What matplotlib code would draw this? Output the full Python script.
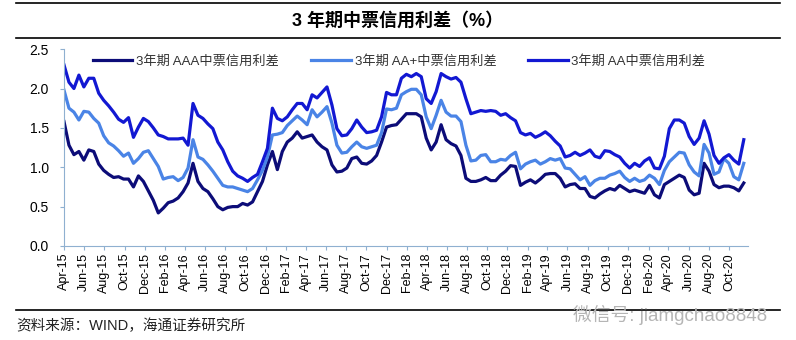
import matplotlib
matplotlib.use('Agg')
import matplotlib.pyplot as plt
import matplotlib.dates as mdates
from matplotlib.lines import Line2D
import pandas as pd

plt.rcParams['font.family'] = ['Liberation Sans', 'Noto Sans CJK SC', 'DejaVu Sans']

# 半月一个点, 2015-04 ~ 2020-11
dates = pd.date_range('2015-04-01', periods=138, freq='15D')

aaa = [1.58, 1.28, 1.16, 1.20, 1.09, 1.22, 1.20, 1.04, 0.96, 0.91, 0.87, 0.88, 0.85, 0.85, 0.75, 0.89, 0.82, 0.70,
       0.58, 0.42, 0.48, 0.55, 0.57, 0.61, 0.69, 0.80, 1.05, 0.82, 0.73, 0.69, 0.60, 0.50, 0.46, 0.49, 0.50, 0.50,
       0.54, 0.52, 0.56, 0.69, 0.82, 1.03, 1.20, 0.97, 1.20, 1.32, 1.37, 1.45, 1.37, 1.39, 1.41, 1.32, 1.26, 1.22,
       1.03, 0.94, 0.95, 0.99, 1.11, 1.13, 1.05, 1.04, 1.08, 1.15, 1.32, 1.51, 1.53, 1.54, 1.61, 1.68,
       1.68, 1.68, 1.64, 1.37, 1.22, 1.32, 1.54, 1.35, 1.30, 1.27, 1.15, 0.86, 0.82, 0.82, 0.84, 0.87, 0.83, 0.83,
       0.90, 0.95, 1.02, 1.01, 0.77, 0.81, 0.84, 0.80, 0.85, 0.91, 0.92, 0.92, 0.86, 0.75, 0.78, 0.79,
       0.73, 0.73, 0.63, 0.61, 0.66, 0.70, 0.73, 0.71, 0.77, 0.73, 0.69, 0.71, 0.69, 0.67, 0.77, 0.65, 0.61, 0.78,
       0.82, 0.86, 0.90, 0.87, 0.71, 0.65, 0.67, 1.05, 0.95, 0.78, 0.74, 0.76, 0.76, 0.74, 0.70, 0.80]

aa_plus = [1.98, 1.75, 1.70, 1.60, 1.71, 1.70, 1.62, 1.56, 1.40, 1.31, 1.27, 1.21, 1.14, 1.18, 1.05, 1.11, 1.19, 1.21,
           1.11, 1.01, 0.85, 0.87, 0.88, 0.83, 0.87, 0.99, 1.35, 1.13, 1.10, 1.03, 0.95, 0.86, 0.77, 0.75, 0.75, 0.73,
           0.71, 0.69, 0.73, 0.84, 0.96, 1.13, 1.41, 1.42, 1.44, 1.53, 1.59, 1.65, 1.60, 1.54, 1.73, 1.64, 1.70, 1.77,
           1.56, 1.28, 1.18, 1.19, 1.26, 1.32, 1.26, 1.24, 1.26, 1.28, 1.44, 1.74, 1.73, 1.75, 1.92, 1.96,
           1.99, 1.99, 1.92, 1.64, 1.49, 1.66, 1.85, 1.70, 1.65, 1.65, 1.58, 1.28, 1.08, 1.09, 1.15, 1.16, 1.07, 1.07,
           1.10, 1.09, 1.15, 1.19, 0.98, 1.04, 1.07, 1.09, 1.04, 1.07, 1.11, 1.09, 1.11, 0.99, 0.98, 0.91,
           0.84, 0.88, 0.77, 0.83, 0.86, 0.86, 0.90, 0.92, 0.95, 0.87, 0.82, 0.86, 0.82, 0.84, 0.90, 0.86, 0.78, 0.96,
           1.07, 1.13, 1.19, 1.18, 1.03, 0.94, 0.89, 1.29, 1.18, 0.91, 0.94, 1.11, 1.05, 0.88, 0.84, 1.05]

aa = [2.30, 2.08, 2.00, 2.17, 2.02, 2.13, 2.13, 1.94, 1.85, 1.78, 1.70, 1.61, 1.57, 1.63, 1.38, 1.51, 1.62, 1.58,
      1.50, 1.41, 1.39, 1.36, 1.36, 1.36, 1.37, 1.28, 1.81, 1.66, 1.62, 1.55, 1.49, 1.32, 1.22, 1.07, 0.95, 0.89,
      0.86, 0.82, 0.87, 0.91, 1.07, 1.24, 1.75, 1.62, 1.59, 1.64, 1.73, 1.81, 1.81, 1.73, 1.92, 1.88, 1.95, 2.02,
      1.79, 1.49, 1.40, 1.41, 1.49, 1.60, 1.51, 1.44, 1.45, 1.47, 1.64, 1.95, 1.92, 1.92, 2.13, 2.18,
      2.15, 2.19, 2.15, 1.87, 1.81, 1.96, 2.19, 2.15, 2.12, 2.14, 2.08, 1.87, 1.68, 1.70, 1.72, 1.71, 1.72, 1.71,
      1.66, 1.68, 1.63, 1.59, 1.44, 1.41, 1.43, 1.38, 1.41, 1.45, 1.40, 1.33, 1.27, 1.13, 1.15, 1.19,
      1.15, 1.18, 1.22, 1.14, 1.12, 1.21, 1.20, 1.16, 1.13, 1.05, 0.99, 1.05, 1.01, 1.08, 1.12, 0.99, 0.98, 1.14,
      1.49, 1.60, 1.60, 1.56, 1.39, 1.29, 1.37, 1.59, 1.42, 1.15, 1.05, 1.12, 1.16, 1.09, 1.04, 1.35]

labels = ['3年期 AAA中票信用利差', '3年期 AA+中票信用利差', '3年期 AA中票信用利差']
colors = ['#0c0c78', '#4a84e6', '#1218d2']

fig = plt.figure(figsize=(7.96, 3.4), dpi=100)
ax = fig.add_axes([0.0804, 0.2765, 0.8594, 0.579])

for vals, lab, col in zip([aaa, aa_plus, aa], labels, colors):
    ax.plot(dates, vals, color=col, lw=2.3, label=lab)

ax.set_ylim(0, 2.5)
ax.set_yticks([0.0, 0.5, 1.0, 1.5, 2.0, 2.5])
ax.yaxis.set_major_formatter(matplotlib.ticker.FormatStrFormatter('%.1f'))
ax.set_xlim(pd.Timestamp('2015-04-01'), pd.Timestamp('2020-11-28'))
ax.set_xticks(pd.date_range('2015-04-01', '2020-10-01', freq='2MS'))
ax.xaxis.set_major_formatter(mdates.DateFormatter('%b-%y'))
ax.tick_params(axis='x', labelrotation=90, labelsize=9, length=3, color='#8fb0d0', pad=2)
ax.tick_params(axis='y', labelsize=10, length=3, color='#8fb0d0', pad=8)

for s in ['top', 'right']:
    ax.spines[s].set_visible(False)
for s in ['left', 'bottom']:
    ax.spines[s].set_color('#8fb0d0')

ax.legend(loc='upper center', bbox_to_anchor=(0.49, 1.03), ncol=3, frameon=False, fontsize=9.5,
          handlelength=3.0, columnspacing=2.4, handletextpad=0.3, labelcolor='#333333')

# 标题和上下分隔线
fig.add_artist(Line2D([0.02, 0.98], [0.991, 0.991], color='black', lw=1.2))
fig.add_artist(Line2D([0.02, 0.98], [0.888, 0.888], color='black', lw=1.2))
fig.add_artist(Line2D([0.02, 0.98], [0.088, 0.088], color='black', lw=1.2))
fig.text(0.5, 0.94, '3 年期中票信用利差（%）', ha='center', va='center', fontsize=13, fontweight='bold')
fig.text(0.02, 0.042, '资料来源：WIND，海通证券研究所', ha='left', va='center', fontsize=10.5, color='#222222')
fig.text(0.72, 0.075, '微信号: jiamgchao8848', ha='left', va='center', fontsize=13.5, color='#b5b5b5')

fig.savefig('out.png', dpi=100)
